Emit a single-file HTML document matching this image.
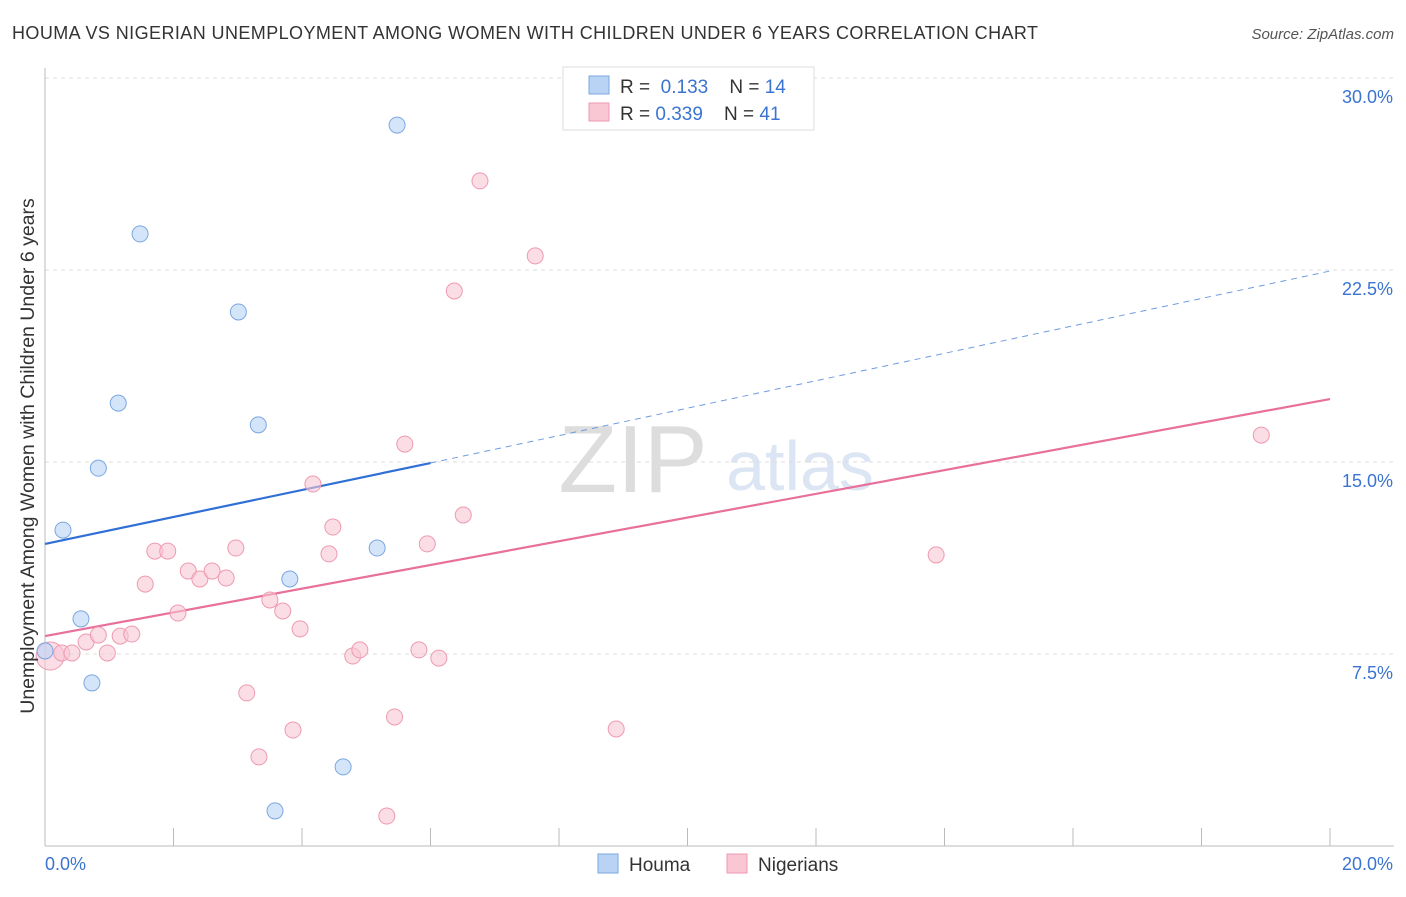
<!DOCTYPE html>
<html><head><meta charset="utf-8"><style>
body{margin:0;background:#fff;font-family:"Liberation Sans",sans-serif;}
svg text{font-family:"Liberation Sans",sans-serif;}
</style></head><body>
<svg id="chart" width="1406" height="892">
<text x="12" y="39" font-size="18" fill="#333" textLength="1026" lengthAdjust="spacing">HOUMA VS NIGERIAN UNEMPLOYMENT AMONG WOMEN WITH CHILDREN UNDER 6 YEARS CORRELATION CHART</text>
<text x="1394" y="39" font-size="15" fill="#555" font-style="italic" text-anchor="end">Source: ZipAtlas.com</text>
<text x="633" y="492" font-size="96" fill="#ddd" font-family="Liberation Serif" text-anchor="middle">ZIP</text>
<text x="800" y="490" font-size="70" fill="#dbe5f3" text-anchor="middle">atlas</text>
<g id="grid"></g><g id="axes"></g><g id="lines"></g><g id="pts"></g>
<text transform="translate(34,456) rotate(-90)" font-size="19.5" fill="#333" text-anchor="middle">Unemployment Among Women with Children Under 6 years</text>
<g>
<rect x="563" y="67" width="251" height="63" fill="#fff" stroke="#ddd"/>
<rect x="589" y="76" width="20" height="18" fill="#b9d3f5" stroke="#7aa7e0"/>
<rect x="589" y="103" width="20" height="18" fill="#f9c6d3" stroke="#ee9ab0"/>
<text x="620" y="93" font-size="19" fill="#333">R = <tspan fill="#3a74d0">&#160;0.133</tspan>&#160;&#160;&#160;&#160;N = <tspan fill="#3a74d0">14</tspan></text>
<text x="620" y="120" font-size="19" fill="#333">R = <tspan fill="#3a74d0">0.339</tspan>&#160;&#160;&#160;&#160;N = <tspan fill="#3a74d0">41</tspan></text>
</g>
<g>
<rect x="598" y="854" width="20" height="19" fill="#b9d3f5" stroke="#7aa7e0"/>
<text x="629" y="871" font-size="19" fill="#333">Houma</text>
<rect x="727" y="854" width="20" height="19" fill="#f9c6d3" stroke="#ee9ab0"/>
<text x="758" y="871" font-size="19" fill="#333">Nigerians</text>
</g>
</svg>
<script>
const yTicks=[7.5,15,22.5,30];
const yTickLabels=["7.5%","15.0%","22.5%","30.0%"];
const houmaX=[0.0,0.28,0.56,0.73,0.83,1.14,1.48,3.01,3.32,3.81,4.64,3.58,5.17,5.48];
const houmaY=[7.62,12.34,8.87,6.37,14.76,17.3,23.91,20.86,16.45,10.43,3.09,1.37,11.64,28.16];
const nigX=[0.08,0.26,0.42,0.64,0.83,0.97,1.17,1.35,1.56,1.71,1.91,2.07,2.23,2.41,2.6,2.82,2.97,3.14,3.33,3.5,3.7,3.86,3.97,4.17,4.42,4.48,4.79,4.9,5.32,5.44,5.6,5.82,5.95,6.13,6.37,6.51,6.77,7.63,8.89,13.87,18.93];
const nigY=[7.42,7.54,7.54,7.97,8.24,7.54,8.2,8.28,10.23,11.52,11.52,9.1,10.74,10.43,10.74,10.47,11.64,5.98,3.48,9.61,9.18,4.53,8.48,14.14,11.41,12.46,7.42,7.66,1.17,5.04,15.7,7.66,11.8,7.34,21.68,12.93,25.98,23.05,4.57,11.37,16.05];
const houmaTrend=[[0,11.8],[6,14.96],[20,22.46]];
const nigTrend=[[0,8.2],[20,17.46]];
const NS='http://www.w3.org/2000/svg';
const X=v=>45+v/20*1285, Y=v=>846-v/7.5*192;
function mk(t,a,p){const e=document.createElementNS(NS,t);for(const k in a)e.setAttribute(k,a[k]);document.getElementById(p).appendChild(e);return e;}
yTicks.forEach((t,i)=>{
 const g=mk('line',{x1:45,x2:1394,y1:Y(t),y2:Y(t),stroke:'#ddd','stroke-dasharray':'4,4'},'grid');
 
 
 const l=mk('text',{x:1393,y:Y(t)+25,'font-size':18,fill:'#3a74d0','text-anchor':'end'},'axes');
 l.textContent=yTickLabels[i];
 
 
});
const ax=mk('line',{x1:45,x2:45,y1:68,y2:846,stroke:'#bbb'},'axes');


const bx=mk('line',{x1:45,x2:1394,y1:846,y2:846,stroke:'#bbb'},'axes');


for(let i=0;i<=10;i++){const t=mk('line',{x1:X(i*2),x2:X(i*2),y1:828,y2:846,stroke:'#bbb'},'axes');
 
 }
[["0.0%",45,'start'],["20.0%",1393,'end']].forEach(d=>{const t=mk('text',{x:d[1],y:870,'font-size':18,fill:'#3a74d0','text-anchor':d[2]},'axes');t.textContent=d[0];
 
 });
const hl=mk('line',{x1:X(houmaTrend[0][0]),y1:Y(houmaTrend[0][1]),x2:X(houmaTrend[1][0]),y2:Y(houmaTrend[1][1]),stroke:'#2f6fd6','stroke-width':2.2},'lines');


const hd=mk('line',{x1:X(houmaTrend[1][0]),y1:Y(houmaTrend[1][1]),x2:X(houmaTrend[2][0]),y2:Y(houmaTrend[2][1]),stroke:'#6f9be0','stroke-width':1,'stroke-dasharray':'6,5'},'lines');


const nl=mk('line',{x1:X(nigTrend[0][0]),y1:Y(nigTrend[0][1]),x2:X(nigTrend[1][0]),y2:Y(nigTrend[1][1]),stroke:'#e8709a','stroke-width':2.2},'lines');


nigX.forEach((x,i)=>{const c=mk('circle',{cx:X(x),cy:Y(nigY[i]),r:i==0?14:8,fill:'#f9c6d3','fill-opacity':0.6,stroke:'#ee9ab0'},'pts');
 
 });
houmaX.forEach((x,i)=>{const c=mk('circle',{cx:X(x),cy:Y(houmaY[i]),r:8,fill:'#b9d3f5','fill-opacity':0.6,stroke:'#7aa7e0'},'pts');
 
 });
</script>
</body></html>
